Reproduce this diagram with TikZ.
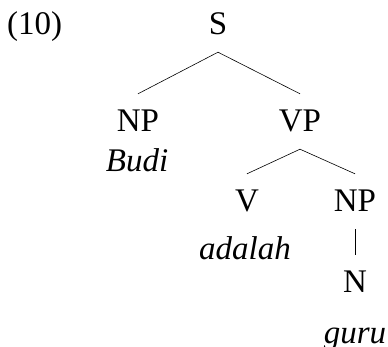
\documentclass[tikz,border=0pt]{standalone}
\usepackage{fontspec}
\setmainfont{Liberation Serif}
\usetikzlibrary{positioning}

\begin{document}
\begin{tikzpicture}[x=1pt,y=-1pt,
		font=\fontsize{33}{40}\selectfont,
		cat/.style={inner xsep=0pt,inner ysep=17pt,text height=21pt,text depth=0pt,anchor=base},
		word/.style={inner sep=0pt,anchor=base,font=\fontsize{33}{40}\selectfont\itshape},
		branch/.style={line width=0.6pt}]
		\useasboundingbox (0,0) rectangle (388,347);
		\node[inner sep=0pt,anchor=base west] (num) at (7,35) {(10)};
		% categories
		\node[cat] (S) at (218,35) {S};
		\node[cat] (NPa) at (138,132) {NP};
		\node[cat] (VP) at (300,132) {VP};
		\node[cat] (V) at (247,212) {V};
		\node[cat] (NPb) at (355,212) {NP};
		\node[cat] (N) at (355,293) {N};
		% words
		\node[word] (budi) at (137,172) {Budi};
		\node[word] (adalah) at (245,260) {adalah};
		\node[word] (guru) at (355,343) {guru};
		
		\draw[branch] (S.south) -- (NPa.north);
		\draw[branch] (S.south) -- (VP.north);
		\draw[branch] (VP.south) -- (V.north);
		\draw[branch] (VP.south) -- (NPb.north);
		\draw[branch] (NPb.south) -- (N.north);
\end{tikzpicture}
\end{document}
